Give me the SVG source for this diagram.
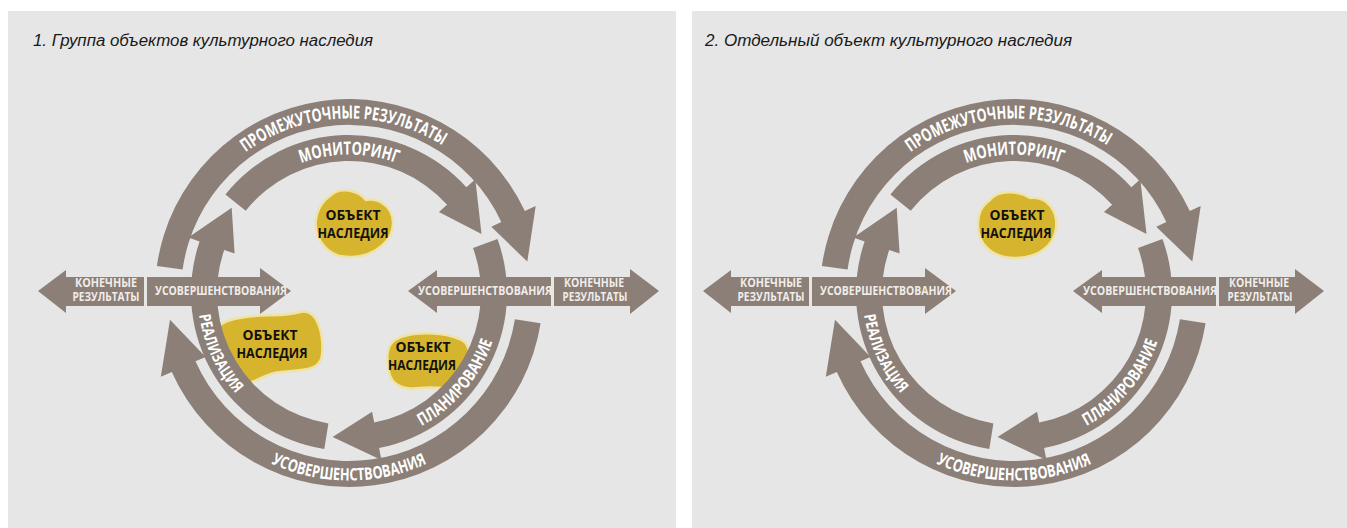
<svg xmlns="http://www.w3.org/2000/svg" xmlns:xlink="http://www.w3.org/1999/xlink" width="1347" height="528" viewBox="0 0 1347 528">
<style>
.bg{fill:#e6e6e6}
.band{fill:#8b7f77}
.title{font-family:"Liberation Sans","DejaVu Sans",sans-serif;font-style:italic;font-size:16px;fill:#1a1a1a}
.ring{font-family:"Open Sans","DejaVu Sans",sans-serif;font-weight:700;fill:#ffffff}
.hlab{font-family:"Open Sans","DejaVu Sans",sans-serif;font-weight:700;font-size:11.5px;fill:#f1ede9;text-anchor:middle}
.blob{fill:#d6b42e;stroke:#efe3a6;stroke-width:2.5}
.btxt{font-family:"Open Sans","DejaVu Sans",sans-serif;font-weight:700;font-size:14px;fill:#111111;text-anchor:middle}
</style>
<defs>
<path id="tp1" d="M185.0,233.3 A174.5,174.5 0 0 1 508.4,222.0"/>
<path id="tp2" d="M242.9,204 A138.5,138.5 0 0 1 455.1,204"/>
<path id="tp3" d="M362.2,443.9 A151.5,151.5 0 0 0 499.9,279.8"/>
<path id="tp4" d="M211.7,229 A151.5,151.5 0 0 0 309.8,439.3"/>
<path id="tp5" d="M216.4,425.6 A187.5,187.5 0 0 0 481.6,425.6"/>
</defs>
<rect x="0" y="0" width="1347" height="528" fill="#ffffff"/>
<rect class="bg" x="8" y="11" width="668" height="517"/>
<rect class="bg" x="692" y="11" width="655" height="517"/>
<text class="title" x="33" y="46" textLength="340" lengthAdjust="spacingAndGlyphs">1. Группа объектов культурного наследия</text>
<text class="title" x="705" y="46" textLength="367" lengthAdjust="spacingAndGlyphs">2. Отдельный объект культурного наследия</text>

<g id="node-left-1">
<path class="blob" d="M330,196 C340,186 358,190 366,200 C376,198 392,204 393,222 C394,240 375,256 352,257 C332,258 322,246 318,236 C312,222 318,204 330,196 Z"/>
<text class="btxt" x="353" y="220" textLength="55" lengthAdjust="spacingAndGlyphs">ОБЪЕКТ</text>
<text class="btxt" x="353" y="238" textLength="71" lengthAdjust="spacingAndGlyphs">НАСЛЕДИЯ</text>
</g>
<g id="node-left-2">
<path class="blob" d="M225,322 C250,312 280,318 300,312 C318,308 324,335 322,355 C320,372 300,370 280,372 C262,374 252,386 240,384 C228,380 232,360 222,345 C216,334 216,326 225,322 Z"/>
<text class="btxt" x="270" y="340" textLength="55" lengthAdjust="spacingAndGlyphs">ОБЪЕКТ</text>
<text class="btxt" x="272" y="358" textLength="71" lengthAdjust="spacingAndGlyphs">НАСЛЕДИЯ</text>
</g>
<g id="node-left-3">
<path class="blob" d="M395,340 C410,330 445,332 462,340 C472,346 472,368 466,380 C458,392 438,386 420,388 C404,390 392,386 389,372 C386,358 386,346 395,340 Z"/>
<text class="btxt" x="423" y="352" textLength="55" lengthAdjust="spacingAndGlyphs">ОБЪЕКТ</text>
<text class="btxt" x="422" y="370" textLength="68" lengthAdjust="spacingAndGlyphs">НАСЛЕДИЯ</text>
</g>
<g id="node-right-1">
<path class="blob" d="M990,200 C1000,188 1020,192 1030,198 C1048,196 1058,212 1056,228 C1054,248 1035,258 1015,258 C992,258 978,244 978,226 C978,212 982,206 990,200 Z"/>
<text class="btxt" x="1017" y="220" textLength="55" lengthAdjust="spacingAndGlyphs">ОБЪЕКТ</text>
<text class="btxt" x="1016" y="238" textLength="71" lengthAdjust="spacingAndGlyphs">НАСЛЕДИЯ</text>
</g>

<g id="connectors-left">
<path class="band" d="M156.9,266.0 A194,194 0 0 1 524.8,211.0 L535.7,205.9 L527.3,261.6 L491.3,226.7 L501.3,222.0 A168,168 0 0 0 182.6,269.6 Z"/>
<path class="band" d="M540.6,323.3 A194,194 0 0 1 171.8,371.9 L160.8,376.8 L170.0,319.8 L205.6,356.9 L195.5,361.3 A168,168 0 0 0 514.9,319.3 Z"/>
<path class="band" d="M225.4,194.6 A158,158 0 0 1 466.4,187.3 L475.3,179.3 L481.5,234.0 L438.9,212.0 L447.1,204.7 A132,132 0 0 0 245.7,210.8 Z"/>
<path class="band" d="M497.5,239.0 A158,158 0 0 1 379.1,448.1 L381.4,459.9 L332.6,437.1 L372.1,411.8 L374.2,422.6 A132,132 0 0 0 473.0,247.9 Z"/>
<path class="band" d="M324.3,449.1 A158,158 0 0 1 199.6,241.6 L188.3,237.6 L231.7,207.8 L234.6,253.6 L224.2,250.0 A132,132 0 0 0 328.4,423.4 Z"/>
<polygon class="band" points="38,291 66,270 66,277 144,277 144,306 66,306 66,313"/>
<polygon class="band" points="147,277 260,277 260,268 291,291 260,314 260,306 147,306"/>
<polygon class="band" points="408,291 437,270 437,277 551,277 551,306 437,306 437,313"/>
<polygon class="band" points="554,277 630,277 630,269 659,291 630,314 630,306 554,306"/>
<text class="ring" font-size="18"><textPath href="#tp1" xlink:href="#tp1" startOffset="50%" text-anchor="middle" textLength="209" lengthAdjust="spacingAndGlyphs">ПРОМЕЖУТОЧНЫЕ РЕЗУЛЬТАТЫ</textPath></text>
<text class="ring" font-size="18"><textPath href="#tp2" xlink:href="#tp2" startOffset="50%" text-anchor="middle" textLength="98" lengthAdjust="spacingAndGlyphs">МОНИТОРИНГ</textPath></text>
<text class="ring" font-size="17"><textPath href="#tp3" xlink:href="#tp3" startOffset="50%" text-anchor="middle" textLength="113" lengthAdjust="spacingAndGlyphs">ПЛАНИРОВАНИЕ</textPath></text>
<text class="ring" font-size="16"><textPath href="#tp4" xlink:href="#tp4" startOffset="50%" text-anchor="middle" textLength="88" lengthAdjust="spacingAndGlyphs">РЕАЛИЗАЦИЯ</textPath></text>
<text class="ring" font-size="17"><textPath href="#tp5" xlink:href="#tp5" startOffset="50%" text-anchor="middle" textLength="161" lengthAdjust="spacingAndGlyphs">УСОВЕРШЕНСТВОВАНИЯ</textPath></text>
<text class="hlab" x="106" y="287" textLength="62" lengthAdjust="spacingAndGlyphs">КОНЕЧНЫЕ</text>
<text class="hlab" x="106" y="301" textLength="67" lengthAdjust="spacingAndGlyphs">РЕЗУЛЬТАТЫ</text>
<text class="hlab" x="221" y="295" textLength="132" lengthAdjust="spacingAndGlyphs">УСОВЕРШЕНСТВОВАНИЯ</text>
<text class="hlab" x="485" y="295" textLength="134" lengthAdjust="spacingAndGlyphs">УСОВЕРШЕНСТВОВАНИЯ</text>
<text class="hlab" x="594" y="287" textLength="60" lengthAdjust="spacingAndGlyphs">КОНЕЧНЫЕ</text>
<text class="hlab" x="595" y="301" textLength="65" lengthAdjust="spacingAndGlyphs">РЕЗУЛЬТАТЫ</text>
</g>

<g id="connectors-right" transform="translate(665,0)">
<path class="band" d="M156.9,266.0 A194,194 0 0 1 524.8,211.0 L535.7,205.9 L527.3,261.6 L491.3,226.7 L501.3,222.0 A168,168 0 0 0 182.6,269.6 Z"/>
<path class="band" d="M540.6,323.3 A194,194 0 0 1 171.8,371.9 L160.8,376.8 L170.0,319.8 L205.6,356.9 L195.5,361.3 A168,168 0 0 0 514.9,319.3 Z"/>
<path class="band" d="M225.4,194.6 A158,158 0 0 1 466.4,187.3 L475.3,179.3 L481.5,234.0 L438.9,212.0 L447.1,204.7 A132,132 0 0 0 245.7,210.8 Z"/>
<path class="band" d="M497.5,239.0 A158,158 0 0 1 379.1,448.1 L381.4,459.9 L332.6,437.1 L372.1,411.8 L374.2,422.6 A132,132 0 0 0 473.0,247.9 Z"/>
<path class="band" d="M324.3,449.1 A158,158 0 0 1 199.6,241.6 L188.3,237.6 L231.7,207.8 L234.6,253.6 L224.2,250.0 A132,132 0 0 0 328.4,423.4 Z"/>
<polygon class="band" points="38,291 66,270 66,277 144,277 144,306 66,306 66,313"/>
<polygon class="band" points="147,277 260,277 260,268 291,291 260,314 260,306 147,306"/>
<polygon class="band" points="408,291 437,270 437,277 551,277 551,306 437,306 437,313"/>
<polygon class="band" points="554,277 630,277 630,269 659,291 630,314 630,306 554,306"/>
<text class="ring" font-size="18"><textPath href="#tp1" xlink:href="#tp1" startOffset="50%" text-anchor="middle" textLength="209" lengthAdjust="spacingAndGlyphs">ПРОМЕЖУТОЧНЫЕ РЕЗУЛЬТАТЫ</textPath></text>
<text class="ring" font-size="18"><textPath href="#tp2" xlink:href="#tp2" startOffset="50%" text-anchor="middle" textLength="98" lengthAdjust="spacingAndGlyphs">МОНИТОРИНГ</textPath></text>
<text class="ring" font-size="17"><textPath href="#tp3" xlink:href="#tp3" startOffset="50%" text-anchor="middle" textLength="113" lengthAdjust="spacingAndGlyphs">ПЛАНИРОВАНИЕ</textPath></text>
<text class="ring" font-size="16"><textPath href="#tp4" xlink:href="#tp4" startOffset="50%" text-anchor="middle" textLength="88" lengthAdjust="spacingAndGlyphs">РЕАЛИЗАЦИЯ</textPath></text>
<text class="ring" font-size="17"><textPath href="#tp5" xlink:href="#tp5" startOffset="50%" text-anchor="middle" textLength="161" lengthAdjust="spacingAndGlyphs">УСОВЕРШЕНСТВОВАНИЯ</textPath></text>
<text class="hlab" x="106" y="287" textLength="62" lengthAdjust="spacingAndGlyphs">КОНЕЧНЫЕ</text>
<text class="hlab" x="106" y="301" textLength="67" lengthAdjust="spacingAndGlyphs">РЕЗУЛЬТАТЫ</text>
<text class="hlab" x="221" y="295" textLength="132" lengthAdjust="spacingAndGlyphs">УСОВЕРШЕНСТВОВАНИЯ</text>
<text class="hlab" x="485" y="295" textLength="134" lengthAdjust="spacingAndGlyphs">УСОВЕРШЕНСТВОВАНИЯ</text>
<text class="hlab" x="594" y="287" textLength="60" lengthAdjust="spacingAndGlyphs">КОНЕЧНЫЕ</text>
<text class="hlab" x="595" y="301" textLength="65" lengthAdjust="spacingAndGlyphs">РЕЗУЛЬТАТЫ</text>
</g>
</svg>
